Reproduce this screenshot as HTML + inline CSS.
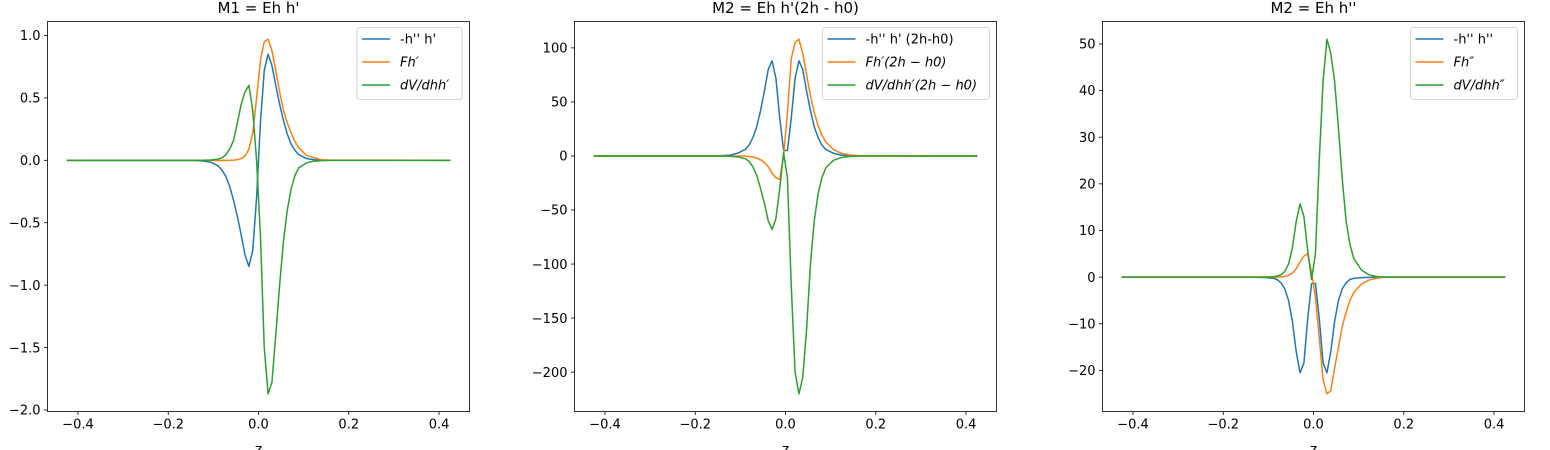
<!DOCTYPE html>
<html><head><meta charset="utf-8">
<style>
html,body{margin:0;padding:0;background:#fff;}
svg{display:block;font-family:"DejaVu Sans","Liberation Sans",sans-serif;}
</style></head>
<body>
<svg id="fig" width="1550" height="450" viewBox="0 0 1550 450" xmlns="http://www.w3.org/2000/svg"></svg>
<script>
// shared z sample positions
const zVals = [-0.425,-0.15725,-0.14025,-0.12325,-0.10625,-0.08925,-0.08075,-0.07225,-0.06375,-0.05525,-0.04675,-0.03825,-0.02975,-0.02125,-0.01275,-0.00425,
0.00425,0.01275,0.02125,0.02975,0.03825,0.04675,0.05525,0.06375,0.07225,0.08075,0.08925,0.10625,0.12325,0.14025,0.15725,0.425];
const xTicks = [-0.4,-0.2,0.0,0.2,0.4];
const xTickLabels = ["−0.4","−0.2","0.0","0.2","0.4"];

// Panel 1: M1 = Eh h'
const p1Blue   = [0,-0.0005,-0.0015,-0.005,-0.015,-0.045,-0.08,-0.13,-0.21,-0.32,-0.45,-0.6,-0.76,-0.85,-0.72,-0.3, 0.3,0.72,0.85,0.76,0.6,0.45,0.32,0.21,0.13,0.08,0.045,0.015,0.005,0.0015,0.0005,0];
const p1Orange = [0,0,0,0,0,0,0,0,0.001,0.002,0.005,0.014,0.035,0.09,0.22,0.5, 0.8,0.95,0.97,0.88,0.72,0.55,0.4,0.3,0.22,0.15,0.1,0.04,0.02,0.005,0.002,0];
const p1Green  = [0,0,0,0.001,0.003,0.01,0.02,0.045,0.09,0.16,0.3,0.45,0.55,0.6,0.4,0.0, -0.6,-1.5,-1.87,-1.78,-1.4,-1.0,-0.65,-0.4,-0.23,-0.12,-0.06,-0.02,-0.006,-0.002,0,0];
const p1YTicks = [1.0,0.5,0.0,-0.5,-1.0,-1.5,-2.0];
const p1YLabels = ["1.0","0.5","0.0","−0.5","−1.0","−1.5","−2.0"];

// Panel 2: M2 = Eh h'(2h - h0)
const p2Blue   = [0,0.1,0.3,0.8,2.5,6,10,17,27,42,60,80,88,72,35,5, 5,35,72,88,80,60,42,27,17,10,6,2.5,0.8,0.3,0.1,0];
const p2Orange = [0,0,0,0,0,-0.2,-0.5,-1,-2,-3.5,-6,-10,-16,-20,-22,0, 40,90,105,108,95,75,56,40,28,19,13,6,2.5,1,0.4,0];
const p2Green  = [0,0,-0.1,-0.3,-0.8,-2.5,-5,-10,-18,-30,-44,-60,-68,-58,-30,3, -20,-120,-200,-220,-205,-160,-100,-60,-35,-20,-11,-4,-1.5,-0.5,-0.2,0];
const p2YTicks = [100,50,0,-50,-100,-150,-200];
const p2YLabels = ["100","50","0","−50","−100","−150","−200"];

// Panel 3: M2 = Eh h''
const p3Blue   = [0,0,0,-0.05,-0.1,-0.25,-0.5,-1.2,-2.5,-5,-9.5,-16,-20.5,-18.4,-8.8,-1.35, -1.35,-8.8,-18.4,-20.5,-16,-9.5,-5,-2.5,-1.2,-0.5,-0.25,-0.1,-0.05,0,0,0];
const p3Orange = [0,0,0,0,0,0,0,0.05,0.15,0.4,0.9,1.8,3.3,4.5,5.0,1, -4.4,-13,-22,-25,-24.3,-19.5,-15,-10.5,-7.5,-5,-3.3,-1.5,-0.6,-0.2,0,0];
const p3Green  = [0,0,0,0,0.05,0.1,0.2,0.5,1.2,2.8,6.3,12,15.7,13,5.6,-0.5, 5,25,42,51,48,42,32,21,12,7,4,1.5,0.5,0.15,0,0];
const p3YTicks = [50,40,30,20,10,0,-10,-20];
const p3YLabels = ["50","40","30","20","10","0","−10","−20"];

const C = {blue:"#1f77b4", orange:"#ff7f0e", green:"#2ca02c"};
const NS = "http://www.w3.org/2000/svg";
const svg = document.getElementById("fig");
function mk(tag, attrs, parent){
  const e = document.createElementNS(NS, tag);
  for (const k in attrs) e.setAttribute(k, attrs[k]);
  (parent||svg).appendChild(e);
  return e;
}

const panels = [
  {left:47.5, title:"M1 = Eh h'", name:"panel-m1", series:[p1Blue,p1Orange,p1Green], yt:p1YTicks, yl:p1YLabels,
   legend:{x:357, w:105, items:[["-h'' h'",false],["Fh′",true],["dV/dhh′",true]]}},
  {left:574.5, title:"M2 = Eh h'(2h - h0)", name:"panel-m2-2h", series:[p2Blue,p2Orange,p2Green], yt:p2YTicks, yl:p2YLabels,
   legend:{x:822.5, w:167, items:[["-h'' h' (2h-h0)",false],["Fh′(2h − h0)",true],["dV/dhh′(2h − h0)",true]]}},
  {left:1102.5, title:"M2 = Eh h''", name:"panel-m2-h2", series:[p3Blue,p3Orange,p3Green], yt:p3YTicks, yl:p3YLabels,
   legend:{x:1410.5, w:107, items:[["-h'' h''",false],["Fh″",true],["dV/dhh″",true]]}}
];
const colors = [C.blue, C.orange, C.green];
const seriesNames = ["hpp-hp-line","fh-line","dv-dhh-line"];
const axTop = 21.5, axBottom = 411.5, axW = 422;

panels.forEach(p => {
  const g = mk("g", {});
  
  
  let mn = Infinity, mx = -Infinity;
  p.series.forEach(s => s.forEach(v => {mn = Math.min(mn, v); mx = Math.max(mx, v);}));
  const zmin = zVals[0], zmax = zVals[zVals.length-1];
  const xm = (zmax - zmin)*0.05, ym = (mx - mn)*0.05;
  const x0 = zmin - xm, x1 = zmax + xm, y0 = mn - ym, y1 = mx + ym;
  const xs = v => p.left + (v - x0)/(x1 - x0)*axW;
  const ys = v => axBottom - (v - y0)/(y1 - y0)*(axBottom - axTop);

  p.series.forEach((s, i) => {
    const d = s.map((v, j) => (j ? "L" : "M") + xs(zVals[j]).toFixed(2) + "," + ys(v).toFixed(2)).join("");
    const path = mk("path", {d:d, fill:"none", stroke:colors[i], "stroke-width":1.5, "stroke-linejoin":"round"}, g);
    
    
  });
  const frame = mk("rect", {x:p.left, y:axTop, width:axW, height:axBottom-axTop, fill:"none", stroke:"#000", "stroke-width":0.8}, g);
  
  
  xTicks.forEach((t, i) => {
    const x = xs(t);
    mk("line", {x1:x, x2:x, y1:axBottom, y2:axBottom+3.5, stroke:"#000", "stroke-width":0.8}, g);
    const tx = mk("text", {x:x, y:axBottom+17, "font-size":13, "text-anchor":"middle", fill:"#000"}, g);
    tx.textContent = xTickLabels[i];
    
    
  });
  p.yt.forEach((t, i) => {
    const y = ys(t);
    mk("line", {x1:p.left-3.5, x2:p.left, y1:y, y2:y, stroke:"#000", "stroke-width":0.8}, g);
    const ty = mk("text", {x:p.left-7, y:y+4.7, "font-size":13, "text-anchor":"end", fill:"#000"}, g);
    ty.textContent = p.yl[i];
    
    
  });
  const tt = mk("text", {x:p.left+axW/2, y:13, "font-size":15, "text-anchor":"middle", fill:"#000"}, g);
  tt.textContent = p.title;
  
  
  const xl = mk("text", {x:p.left+axW/2, y:454, "font-size":14, "text-anchor":"middle", fill:"#000"}, g);
  xl.textContent = "z";
  
  
  const L = p.legend;
  const lg = mk("g", {}, g);
  
  
  mk("rect", {x:L.x, y:27.5, width:L.w, height:72, rx:2.5, fill:"#fff", "fill-opacity":0.8, stroke:"#ccc", "stroke-width":0.8}, lg);
  L.items.forEach((it, i) => {
    const y = 39 + i*23;
    mk("line", {x1:L.x+5, x2:L.x+33, y1:y, y2:y, stroke:colors[i], "stroke-width":1.5}, lg);
    const lt = mk("text", {x:L.x+43, y:y+4.5, "font-size":13, fill:"#000", "font-style":it[1]?"italic":"normal"}, lg);
    lt.textContent = it[0];
    
    
  });
});
</script>
</body></html>
